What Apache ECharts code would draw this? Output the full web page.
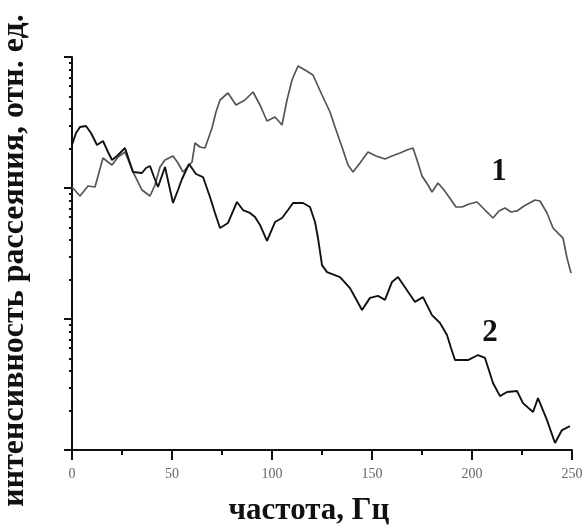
<!DOCTYPE html>
<html>
<head>
<meta charset="utf-8">
<script src="https://cdn.jsdelivr.net/npm/echarts@6/dist/echarts.min.js"></script>
<style>html,body{margin:0;padding:0;background:#fff}#c{width:586px;height:526px}</style>
</head>
<body>
<div id="c"></div>
<script>
// Curve 1 (grey)
var freq1 = [0,4,8,11.5,15.5,18,20,23,26.5,30.5,35,39,41.5,44,46.5,50.5,53,55.5,60,61.5,64,66.5,70,72,74,78,82,86.5,90.5,94,97.5,101.5,105,107.5,110,113,116.5,120.5,125,129,131.5,135,138,140.5,144,148,152,156.5,160,164,167.5,170.5,172.5,175,178,180,183,186,188.5,192,195,198.5,202.5,206.5,210.5,213.5,216.5,219.5,222.5,226,231.5,234,237.5,240.5,243,245.5,247.5,249.5];
var int1 = [101.8,86.9,103.6,101.8,169.4,157.9,149.8,172.5,188.3,132.5,96.5,86.9,105.4,144.7,163.6,175.5,155.2,132.5,157.9,220.6,205.6,202.0,287.1,380.4,469.7,531.2,430.1,469.7,540.6,430.1,324.8,348.4,302.7,469.7,667.4,853.6,795.9,728.9,512.8,380.4,292.2,205.6,149.8,132.5,155.2,188.3,175.5,166.5,175.5,185.0,195.0,202.0,163.6,123.5,105.4,93.2,109.2,96.5,85.4,71.6,71.6,75.5,78.2,67.9,59.0,66.8,70.4,65.6,66.8,72.9,81.0,79.6,64.5,49.5,45.3,41.5,29.2,22.4];
// Curve 2 (black)
var freq2 = [0,2,4,7,9.5,12.5,15.5,18,20,22.5,26.5,28.5,30.5,35,37,39,41,43,46.5,48.5,50.5,53,55,58.5,62,65.5,69,71.5,74,78,82.5,85.5,89,91.5,94,97.5,101.5,105,108,110.5,115.5,119,121.5,123,125,127.5,134,139,142,145,149,153,156.5,160,163,167.5,171.5,175.5,180,184,187.5,189.5,191.5,198,203,206.5,210.5,214,217.5,222.5,225.5,230.5,233,237.5,241.5,245,249];
var int2 = [212.9,262.9,292.2,297.4,262.9,212.9,228.5,188.3,163.6,175.5,202.0,163.6,132.5,130.2,142.1,147.2,121.3,101.8,144.7,105.4,76.8,96.5,117.1,152.5,127.9,121.3,85.4,64.5,49.5,54.1,78.2,67.9,64.5,60.1,52.2,39.4,55.0,59.0,67.9,76.8,76.8,71.6,55.0,41.5,25.8,22.8,20.9,17.2,14.2,11.7,14.5,15.0,14.0,19.2,20.9,16.6,13.5,14.7,10.7,9.32,7.55,6.01,4.86,4.86,5.31,5.04,3.25,2.58,2.77,2.82,2.28,1.95,2.49,1.69,1.13,1.42,1.52];
// Axis ticks
var xMin = 0, xMax = 250, xStep = 50;
var yMin = 1, yMax = 1000;
var yMinorLog = [];
[1,10,100].forEach(function(d){ for (var k=2;k<=9;k++) yMinorLog.push(Math.log10(k*d)); });
var xTitle = 'частота, Гц';
var yTitle = 'интенсивность рассеяния, отн. ед.';
var curveLabels = ['1','2'];

function pairs(xs, ys){ return xs.map(function(x,i){ return [x, ys[i]]; }); }

var chart = echarts.init(document.getElementById('c'), null, {renderer:'canvas'});
var serif = 'Liberation Serif';
chart.setOption({
  animation: false,
  backgroundColor: '#fff',
  grid: { left: 72, right: 14, top: 57, bottom: 76, containLabel: false, outerBoundsMode: 'none' },
  xAxis: {
    type: 'value', min: xMin, max: xMax, interval: xStep,
    name: xTitle, nameLocation: 'middle', nameGap: 45,
    nameTextStyle: { fontFamily: serif, fontWeight: 'bold', fontSize: 31, color: '#111', padding: [0, 26, 0, 0] },
    axisLine: { show: true, onZero: false, lineStyle: { color: '#111', width: 2 } },
    axisTick: { show: true, length: 10, lineStyle: { color: '#111', width: 2 } },
    minorTick: { show: true, splitNumber: 2, length: 5, lineStyle: { color: '#111', width: 2 } },
    axisLabel: { fontFamily: serif, fontSize: 14, color: '#666', margin: 17 },
    splitLine: { show: false }, minorSplitLine: { show: false }
  },
  yAxis: [{
    type: 'log', logBase: 10, min: yMin, max: yMax,
    name: yTitle, nameLocation: 'middle', nameRotate: 90, nameGap: 41,
    nameTextStyle: { fontFamily: serif, fontWeight: 'bold', fontSize: 32, color: '#111', padding: [0, 14, 0, 0] },
    axisLine: { show: true, onZero: false, lineStyle: { color: '#111', width: 2 } },
    axisTick: { show: true, length: 8, lineStyle: { color: '#111', width: 2 } },
    axisLabel: { show: false },
    splitLine: { show: false }
  }, {
    type: 'value', min: 0, max: 3, position: 'left',
    axisLine: { show: false },
    axisTick: { show: true, length: 3, customValues: yMinorLog, lineStyle: { color: '#111', width: 2 } },
    axisLabel: { show: false },
    splitLine: { show: false }
  }],
  series: [{
    type: 'line', yAxisIndex: 0, data: pairs(freq1, int1), showSymbol: false,
    lineStyle: { color: '#555', width: 1.7 }, z: 2
  }, {
    type: 'line', yAxisIndex: 0, data: pairs(freq2, int2), showSymbol: false,
    lineStyle: { color: '#111', width: 1.9 }, z: 3
  }],
  graphic: [
    { type: 'text', x: 499, y: 172, style: { text: curveLabels[0], font: 'bold 31px "Liberation Serif"', fill: '#111', align: 'center', verticalAlign: 'middle' } },
    { type: 'text', x: 490, y: 333, style: { text: curveLabels[1], font: 'bold 31px "Liberation Serif"', fill: '#111', align: 'center', verticalAlign: 'middle' } }
  ]
});
</script>
</body>
</html>
